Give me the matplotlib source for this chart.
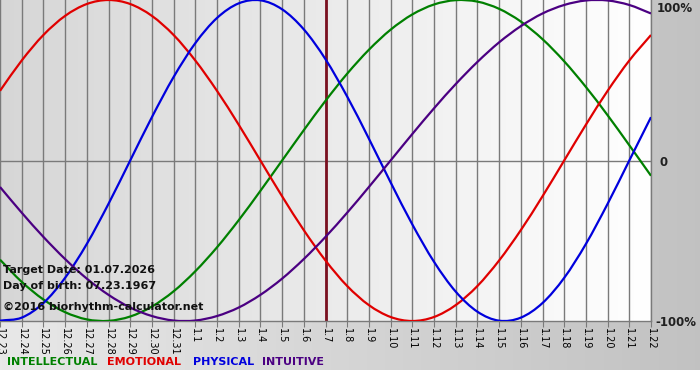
import numpy as np
import matplotlib
matplotlib.use("Agg")
import matplotlib.pyplot as plt
from matplotlib.path import Path
from matplotlib.patches import PathPatch

# ---- data ----
dates = ["12.23", "12.24", "12.25", "12.26", "12.27", "12.28", "12.29", "12.30", "12.31",
         "1.1", "1.2", "1.3", "1.4", "1.5", "1.6", "1.7", "1.8", "1.9", "1.10", "1.11",
         "1.12", "1.13", "1.14", "1.15", "1.16", "1.17", "1.18", "1.19", "1.20", "1.21", "1.22"]
physical = [-0.998, -0.979, -0.888, -0.731, -0.520, -0.270, 0.0, 0.270, 0.520, 0.731, 0.888,
            0.979, 0.998, 0.942, 0.817, 0.631, 0.398, 0.136, -0.136, -0.398, -0.631, -0.817,
            -0.942, -0.998, -0.979, -0.888, -0.731, -0.520, -0.270, 0.0, 0.270]
emotional = [0.434, 0.623, 0.782, 0.901, 0.975, 1.000, 0.975, 0.901, 0.782, 0.623, 0.434,
             0.223, 0.0, -0.223, -0.434, -0.623, -0.782, -0.901, -0.975, -1.000, -0.975,
             -0.901, -0.782, -0.623, -0.434, -0.223, 0.0, 0.223, 0.434, 0.623, 0.782]
intellectual = [-0.618, -0.756, -0.866, -0.945, -0.990, -0.999, -0.972, -0.910, -0.815, -0.690,
                -0.541, -0.372, -0.189, 0.0, 0.189, 0.372, 0.541, 0.690, 0.815, 0.910, 0.972,
                0.999, 0.990, 0.945, 0.866, 0.756, 0.618, 0.458, 0.282, 0.095, -0.095]
intuitive = [-0.165, -0.325, -0.476, -0.614, -0.736, -0.837, -0.916, -0.969, -0.997, -0.997,
             -0.969, -0.916, -0.837, -0.736, -0.614, -0.476, -0.325, -0.165, 0.0, 0.165, 0.325,
             0.476, 0.614, 0.736, 0.837, 0.916, 0.969, 0.997, 0.997, 0.969, 0.916]
target_index = 15
y_labels = ["100%", "0", "-100%"]
y_values = [1, 0, -1]
series_names = ["INTELLECTUAL", "EMOTIONAL", "PHYSICAL", "INTUITIVE"]
info_lines = ["Target Date: 01.07.2026", "Day of birth: 07.23.1967"]
copyright_text = "\u00a92016 biorhythm-calculator.net"

# ---- styles ----
col = {"INTELLECTUAL": "#008000", "EMOTIONAL": "#e00000",
       "PHYSICAL": "#0000dd", "INTUITIVE": "#4b0082"}
W, H = 700, 380
fig = plt.figure(figsize=(W / 100, H / 100), dpi=100, facecolor="white")

# outer gradient background (top 370 px)
bg = fig.add_axes([0, 10 / H, 1, 370 / H])
g = np.linspace(0.91, 0.76, 256).reshape(1, -1)
bg.imshow(np.dstack([g, g, g]), aspect="auto", extent=[0, 1, 0, 1])
bg.set_axis_off()

# plot axes
L, R, T, B = 0, 651, 0, 321
ax = fig.add_axes([L / W, 1 - B / H, (R - L) / W, (B - T) / H])
x = np.arange(len(dates))
ax.set_xlim(0, len(dates) - 1)
ax.set_ylim(-1, 1)
pg = np.linspace(0.84, 1.0, 256).reshape(1, -1)
ax.imshow(np.dstack([pg, pg, pg]), aspect="auto", extent=[0, len(dates) - 1, -1, 1], zorder=0)

for xi in x:
    ax.axvline(xi, color="#7a7a7a", lw=1.0, zorder=1)
ax.axhline(0, color="#7a7a7a", lw=1.0, zorder=1)
ax.axvline(target_index, color="#7a1020", lw=2.0, zorder=2)


def smooth_curve(ax, xs, ys, color):
    """Draw a smooth curve through the points using Bezier segments (Catmull-Rom)."""
    xs = np.asarray(xs, float)
    ys = np.asarray(ys, float)
    n = len(xs)
    verts = [(xs[0], ys[0])]
    codes = [Path.MOVETO]
    for i in range(n - 1):
        p0 = (xs[i - 1], ys[i - 1]) if i > 0 else (2 * xs[0] - xs[1], 2 * ys[0] - ys[1])
        p1 = (xs[i], ys[i])
        p2 = (xs[i + 1], ys[i + 1])
        p3 = (xs[i + 2], ys[i + 2]) if i + 2 < n else (2 * xs[-1] - xs[-2], 2 * ys[-1] - ys[-2])
        c1 = (p1[0] + (p2[0] - p0[0]) / 6, p1[1] + (p2[1] - p0[1]) / 6)
        c2 = (p2[0] - (p3[0] - p1[0]) / 6, p2[1] - (p3[1] - p1[1]) / 6)
        verts += [c1, c2, p2]
        codes += [Path.CURVE4] * 3
    patch = PathPatch(Path(verts, codes), facecolor="none", edgecolor=color, lw=1.6,
                      zorder=3, clip_on=True)
    ax.add_patch(patch)


smooth_curve(ax, x, intellectual, col["INTELLECTUAL"])
smooth_curve(ax, x, emotional, col["EMOTIONAL"])
smooth_curve(ax, x, physical, col["PHYSICAL"])
smooth_curve(ax, x, intuitive, col["INTUITIVE"])

for s in ["left", "top"]:
    ax.spines[s].set_visible(False)
for s in ["right", "bottom"]:
    ax.spines[s].set_color("#7a7a7a")
    ax.spines[s].set_linewidth(1.0)

ax.set_xticks(x)
ax.set_xticklabels(dates, rotation=270, fontsize=7, family="DejaVu Sans")
ax.tick_params(axis="x", length=4, color="#7a7a7a", pad=1)
ax.set_yticks([])

# right-side labels (pixel positions of label centres)
label_pos = {"100%": (657, 9), "0": (660, 162), "-100%": (655, 322)}
for lab in y_labels:
    px, py = label_pos[lab]
    fig.text(px / W, 1 - py / H, lab, fontsize=8.5, fontweight="bold",
             va="center", ha="left", color="#202020")

# info text
fig.text(3 / W, 1 - 270 / H, info_lines[0], fontsize=8, fontweight="bold", va="center", ha="left", color="#111111")
fig.text(3 / W, 1 - 286 / H, info_lines[1], fontsize=8, fontweight="bold", va="center", ha="left", color="#111111")
fig.text(3 / W, 1 - 307 / H, copyright_text, fontsize=8, fontweight="bold", va="center", ha="left", color="#111111")

# legend row
xs = [7, 107, 193, 262]
for name, xp in zip(series_names, xs):
    fig.text(xp / W, 1 - 362 / H, name, fontsize=8, fontweight="bold",
             color=col[name], va="center", ha="left")

fig.savefig("out.png", dpi=100, facecolor="white")
